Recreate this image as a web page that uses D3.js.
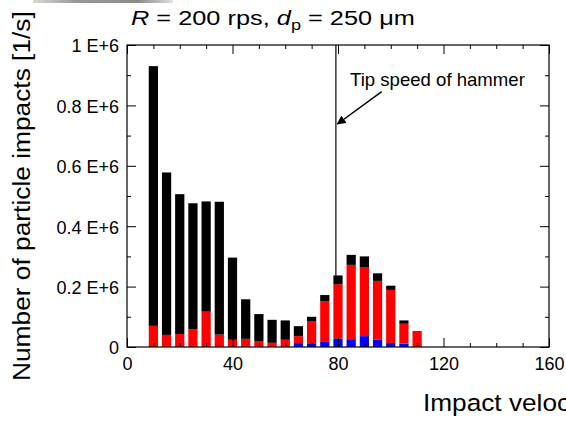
<!DOCTYPE html>
<html>
<head>
<meta charset="utf-8">
<script src="https://cdn.jsdelivr.net/npm/d3@7"></script>
<style>
  html, body { margin: 0; padding: 0; background: #fff; overflow: hidden; }
  svg { display: block; font-family: Arial, "Liberation Sans", sans-serif; }
</style>
</head>
<body>
<svg id="chart" width="566" height="421"></svg>
<script>
// ---- data (impacts per second) ----
const velocities   = [10, 15, 20, 25, 30, 35, 40, 45, 50, 55, 60, 65, 70, 75, 80, 85, 90, 95, 100, 105, 110];
const blueImpacts  = [0, 0, 0, 0, 0, 0, 0, 0, 0, 0, 0, 13000, 10000, 19000, 28000, 26000, 36000, 24000, 13000, 11000, 0];
const redImpacts   = [70000, 40000, 43000, 59000, 117000, 41000, 24000, 27000, 20000, 14000, 24000, 23000, 76000, 132000, 180000, 246000, 227000, 195000, 176000, 66000, 53000];
const blackImpacts = [860000, 538000, 463000, 417000, 365000, 440000, 272000, 131000, 89000, 76000, 64000, 33000, 14000, 21000, 29000, 33000, 37000, 25000, 14000, 11000, 0];
const seriesKeys   = ["blue", "red", "black"];
const seriesColors = ["#0000ff", "#ff0000", "#000000"];

const xMajorTicks = [0, 40, 80, 120, 160];
const xMinorTicks = [10, 20, 30, 50, 60, 70, 90, 100, 110, 130, 140, 150];
const yMajorTicks = [0, 200000, 400000, 600000, 800000, 1000000];
const yTickLabels = ["0", "0.2 E+6", "0.4 E+6", "0.6 E+6", "0.8 E+6", "1 E+6"];
const yMinorTicks = [100000, 300000, 500000, 700000, 900000];
const tipSpeed = 79.2;
const barWidthUnits = 3.5;

const titleParts = [
  {t: "R", style: "italic"}, {t: " = 200 rps, "}, {t: "d", style: "italic"},
  {t: "p", sub: true}, {t: " = 250 \u03bcm"}
];
const yTitle = "Number of particle impacts [1/s]";
const xTitle = "Impact velocity [m/s]";
const annotation = "Tip speed of hammer";

// ---- layout ----
const svg = d3.select("#chart");
const L = 127, R = 549, T = 45, B = 347;
const x = d3.scaleLinear().domain([0, 160]).range([L, R]);
const y = d3.scaleLinear().domain([0, 1000000]).range([B, T]);

// gray strip at top (artifact of source)
const defs = svg.append("defs");
const grad = defs.append("linearGradient").attr("id", "gstrip");
grad.append("stop").attr("offset", "0%").attr("stop-color", "#d8d8d8");
grad.append("stop").attr("offset", "30%").attr("stop-color", "#9a9a9a");
grad.append("stop").attr("offset", "75%").attr("stop-color", "#8a8a8a");
grad.append("stop").attr("offset", "100%").attr("stop-color", "#e0e0e0");
svg.append("rect").attr("x", 33).attr("y", 0).attr("width", 140).attr("height", 3).attr("fill", "url(#gstrip)");

defs.append("marker").attr("id", "arrow").attr("viewBox", "0 0 10 10")
  .attr("refX", 9).attr("refY", 5).attr("markerWidth", 6).attr("markerHeight", 6)
  .attr("markerUnits", "userSpaceOnUse").attr("orient", "auto")
  .attr("markerWidth", 9).attr("markerHeight", 9)
  .append("path").attr("d", "M0,0 L10,5 L0,10 z").attr("fill", "#000");

// tip speed vertical line (behind bars)
svg.append("line")
  .attr("x1", x(tipSpeed)).attr("x2", x(tipSpeed))
  .attr("y1", y(1000000)).attr("y2", y(0))
  .attr("stroke", "#000").attr("stroke-width", 1.2);

// bars
const rows = velocities.map((v, i) => ({v, blue: blueImpacts[i], red: redImpacts[i], black: blackImpacts[i]}));
const stacked = d3.stack().keys(seriesKeys)(rows);
const bw = x(barWidthUnits) - x(0);
svg.append("g").selectAll("g").data(stacked).join("g")
  .attr("fill", (d, i) => seriesColors[i])
  .selectAll("rect").data(d => d.filter(s => s[1] - s[0] > 0)).join("rect")
  .attr("x", d => x(d.data.v) - bw / 2)
  .attr("width", bw)
  .attr("y", d => y(d[1]))
  .attr("height", d => y(d[0]) - y(d[1]));

// axes with inward ticks
function styleAxis(g) {
  g.select(".domain").remove();
  g.selectAll("line").attr("stroke", "#000").attr("stroke-width", 1);
  g.selectAll("text").attr("fill", "#000");
}
svg.append("g").attr("transform", `translate(0,${B})`)
  .call(d3.axisBottom(x).tickValues(xMajorTicks).tickSize(-9).tickPadding(10).tickFormat(d3.format("d")))
  .call(styleAxis).selectAll("text").attr("font-size", 18).attr("font-family", "Arial, 'Liberation Sans', sans-serif");
svg.append("g").attr("transform", `translate(0,${B})`)
  .call(d3.axisBottom(x).tickValues(xMinorTicks).tickSize(-4).tickFormat(""))
  .call(styleAxis);
svg.append("g").attr("transform", `translate(0,${T})`)
  .call(d3.axisTop(x).tickValues(xMajorTicks).tickSize(-9).tickFormat(""))
  .call(styleAxis);
svg.append("g").attr("transform", `translate(0,${T})`)
  .call(d3.axisTop(x).tickValues(xMinorTicks).tickSize(-4).tickFormat(""))
  .call(styleAxis);

svg.append("g").attr("transform", `translate(${L},0)`)
  .call(d3.axisLeft(y).tickValues(yMajorTicks).tickSize(-9).tickPadding(8)
    .tickFormat((d, i) => yTickLabels[i]))
  .call(styleAxis).selectAll("text").attr("font-size", 18).attr("dy", "0.38em")
  .attr("font-family", "Arial, 'Liberation Sans', sans-serif");
svg.append("g").attr("transform", `translate(${L},0)`)
  .call(d3.axisLeft(y).tickValues(yMinorTicks).tickSize(-4).tickFormat(""))
  .call(styleAxis);
svg.append("g").attr("transform", `translate(${R},0)`)
  .call(d3.axisRight(y).tickValues(yMajorTicks).tickSize(-9).tickFormat(""))
  .call(styleAxis);
svg.append("g").attr("transform", `translate(${R},0)`)
  .call(d3.axisRight(y).tickValues(yMinorTicks).tickSize(-4).tickFormat(""))
  .call(styleAxis);

// frame
svg.append("rect").attr("x", L).attr("y", T).attr("width", R - L).attr("height", B - T)
  .attr("fill", "none").attr("stroke", "#000").attr("stroke-width", 1.2);

// helper: fit text horizontally to a target width
function fit(textSel, x0, y0, targetW, rotate) {
  const w = textSel.node().getComputedTextLength();
  const k = targetW / w;
  textSel.attr("transform", `translate(${x0},${y0})` + (rotate ? ` rotate(${rotate})` : "") + ` scale(${k},1)`);
}

// title
const title = svg.append("text").attr("font-size", 21).attr("fill", "#000");
titleParts.forEach(p => {
  const ts = title.append("tspan").text(p.t);
  if (p.style) ts.attr("font-style", p.style);
  if (p.sub) ts.attr("font-size", 15).attr("dy", 5);
  else if (p.t.startsWith(" = 250")) ts.attr("dy", -5);
});
fit(title, 131, 25, 284);

// y title
const yt = svg.append("text").attr("font-size", 24).attr("fill", "#000").text(yTitle);
fit(yt, 29.5, 381, 370, -90);

// x title
const xt = svg.append("text").attr("font-size", 24.5).attr("fill", "#000").text(xTitle);
xt.attr("transform", `translate(423,411) scale(1.07,1)`);

// annotation
const an = svg.append("text").attr("font-size", 18).attr("fill", "#000").text(annotation);
fit(an, 350, 86, 175);
svg.append("line")
  .attr("x1", 381.7).attr("y1", 91.7).attr("x2", x(tipSpeed) + 1.5).attr("y2", 124)
  .attr("stroke", "#000").attr("stroke-width", 1.5).attr("marker-end", "url(#arrow)");
</script>
</body>
</html>
